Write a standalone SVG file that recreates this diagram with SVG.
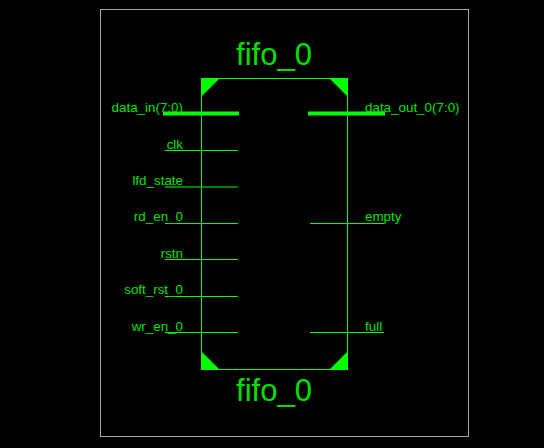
<svg xmlns="http://www.w3.org/2000/svg" width="544" height="448" viewBox="0 0 544 448">
<style>
.frame{fill:none;stroke:#a8a8a8;stroke-width:1}
.body{fill:none;stroke:#00ff00;stroke-width:1}
.corner{fill:#00ff00;stroke:none}
.pin{stroke:#00ff00;stroke-width:1;fill:none}
.bus{stroke:#00ff00;stroke-width:4;fill:none}
.lbl{font-family:"Liberation Sans",Arial,sans-serif;font-size:13.4px;fill:#00e000}
.l{text-anchor:end}
.title{font-family:"Liberation Sans",Arial,sans-serif;font-size:31px;fill:#00e000;text-anchor:middle}
</style>
<rect x="0" y="0" width="544" height="448" fill="#000"/>
<rect class="frame" x="100.5" y="9.5" width="368" height="427"/>
<g id="fifo_0">
<rect class="body" x="201.5" y="78.5" width="146" height="291"/>
<polygon class="corner" points="201.5,78.5 219.5,78.5 201.5,96.5"/>
<polygon class="corner" points="347.5,78.5 329.5,78.5 347.5,96.5"/>
<polygon class="corner" points="201.5,369.5 219.5,369.5 201.5,351.5"/>
<polygon class="corner" points="347.5,369.5 329.5,369.5 347.5,351.5"/>
<text class="title" x="274" y="65">fifo_0</text>
<text class="title" x="274" y="401">fifo_0</text>
</g>
<g id="connectors">
<line class="bus" x1="163" y1="113.5" x2="239" y2="113.5"/>
<line class="pin" x1="165" y1="150.5" x2="238" y2="150.5"/>
<line class="pin" x1="165" y1="187" x2="238" y2="187"/>
<line class="pin" x1="165" y1="223.5" x2="238" y2="223.5"/>
<line class="pin" x1="165" y1="259.5" x2="238" y2="259.5"/>
<line class="pin" x1="165" y1="296.5" x2="238" y2="296.5"/>
<line class="pin" x1="165" y1="332.5" x2="238" y2="332.5"/>
<line class="bus" x1="308" y1="113.5" x2="385" y2="113.5"/>
<line class="pin" x1="310" y1="223.5" x2="384" y2="223.5"/>
<line class="pin" x1="310" y1="332.5" x2="384" y2="332.5"/>
</g>
<g id="labels">
<text class="lbl l" x="183" y="112">data_in(7:0)</text>
<text class="lbl l" x="183" y="149">clk</text>
<text class="lbl l" x="183" y="185">lfd_state</text>
<text class="lbl l" x="183" y="221">rd_en_0</text>
<text class="lbl l" x="183" y="258">rstn</text>
<text class="lbl l" x="183" y="294">soft_rst_0</text>
<text class="lbl l" x="183" y="331">wr_en_0</text>
<text class="lbl" x="365" y="112">data_out_0(7:0)</text>
<text class="lbl" x="365" y="221">empty</text>
<text class="lbl" x="365" y="331">full</text>
</g>
</svg>
